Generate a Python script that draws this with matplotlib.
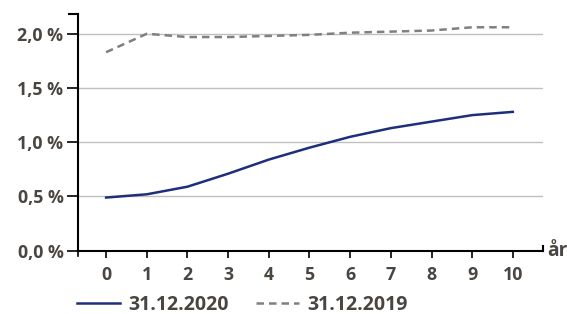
import matplotlib.pyplot as plt

# Data
years = [0, 1, 2, 3, 4, 5, 6, 7, 8, 9, 10]
rate_2020 = [0.49, 0.52, 0.59, 0.71, 0.84, 0.95, 1.05, 1.13, 1.19, 1.25, 1.28]
rate_2019 = [1.83, 2.00, 1.97, 1.97, 1.98, 1.99, 2.01, 2.02, 2.03, 2.06, 2.06]
yticks = [0.0, 0.5, 1.0, 1.5, 2.0]
ytick_labels = ["0,0 %", "0,5 %", "1,0 %", "1,5 %", "2,0 %"]
labels = ["31.12.2020", "31.12.2019"]

text_col = "#4a4540"
fs = 12.8
plt.rcParams['font.family'] = ['Open Sans', 'DejaVu Sans']
plt.rcParams['font.weight'] = 'bold'

fig = plt.figure(figsize=(5.67, 3.14), dpi=100)
ax = fig.add_axes([0.1376, 0.2016, 0.82, 0.753])

for y in yticks[1:]:
    ax.axhline(y, color="#c0c0c0", lw=1.0, zorder=1)

l1, = ax.plot(years, rate_2020, color="#1f2e7a", lw=1.8, zorder=3)
l2, = ax.plot(years, rate_2019, color="#808080", lw=1.8, ls=(0, (3, 2)), zorder=3)

ax.set_xlim(-0.69, 10.74)
ax.set_ylim(0, 2.18)
ax.set_xticks(years)
ax.set_xticklabels([str(x) for x in years], fontsize=fs, color=text_col, fontweight='bold')
ax.set_yticks(yticks)
ax.set_yticklabels(ytick_labels, fontsize=fs, color=text_col, fontweight='bold')
ax.tick_params(axis='x', direction='out', length=5, width=1.2, pad=6)
ax.tick_params(axis='y', direction='out', length=8, width=1.2, pad=2.5)

for s in ['top', 'right']:
    ax.spines[s].set_visible(False)
for s in ['left', 'bottom']:
    ax.spines[s].set_linewidth(1.5)
    ax.spines[s].set_color("black")

# small end marks on axes
ax.plot([-0.69, -0.69], [0, -0.045], color="black", lw=1.2, clip_on=False)
ax.plot([10.74, 10.74], [0, 0.045], color="black", lw=1.5, clip_on=False)
ax.plot([-0.69, -0.92], [2.18, 2.18], color="black", lw=1.5, clip_on=False)

ax.text(10.85, 0.0, "år", fontsize=fs + 1, color=text_col, fontweight='bold',
        va='center', ha='left', clip_on=False)

fig.legend([l1, l2], labels, loc='center left', bbox_to_anchor=(0.1358, 0.03),
           ncol=2, frameon=False, handlelength=2.2, columnspacing=1.4,
           handletextpad=0.45, borderpad=0, borderaxespad=0, labelcolor=text_col,
           prop={'weight': 'bold', 'size': 14})

fig.savefig("out.png", dpi=100)
